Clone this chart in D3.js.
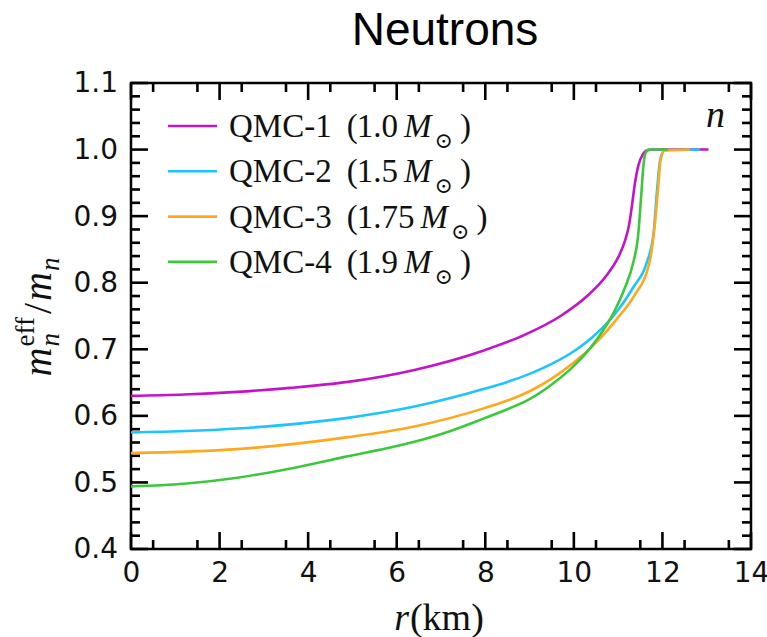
<!DOCTYPE html>
<html>
<head>
<meta charset="utf-8">
<script src="https://cdn.jsdelivr.net/npm/d3@7"></script>
<style>
  html, body { margin: 0; padding: 0; background: #fff; }
  svg { display: block; }
</style>
</head>
<body>
<svg id="chart" width="767" height="637"></svg>
<script>
// ---------------- data ----------------
const seriesNames = ["QMC-1", "QMC-2", "QMC-3", "QMC-4"];
const seriesMasses = ["1.0", "1.5", "1.75", "1.9"];
const seriesColors = ["#c414c8", "#1ec4ff", "#ffa81e", "#3cc83c"];

const qmc1R = [0, 1.2, 2.4, 3.6, 4.9, 6.4, 8.0, 8.9, 9.7, 10.3, 10.75, 11.0, 11.15, 11.25, 11.32, 11.38, 11.46, 11.55, 11.66, 11.8, 13.04];
const qmc1V = [0.630, 0.632, 0.636, 0.642, 0.651, 0.669, 0.699, 0.722, 0.750, 0.780, 0.812, 0.838, 0.862, 0.888, 0.920, 0.950, 0.977, 0.992, 0.999, 1.0, 1.0];

const qmc2R = [0, 2.4, 4.9, 6.4, 8.0, 8.5, 9.0, 9.5, 10.0, 10.5, 11.0, 11.35, 11.64, 11.8, 11.88, 11.95, 12.05, 12.85];
const qmc2V = [0.575, 0.581, 0.597, 0.614, 0.641, 0.651, 0.663, 0.678, 0.697, 0.723, 0.759, 0.794, 0.829, 0.874, 0.940, 0.985, 0.999, 1.0];

const qmc3R = [0, 2.4, 4.9, 6.4, 8.0, 8.5, 9.0, 9.5, 10.0, 10.5, 11.0, 11.35, 11.72, 11.83, 11.9, 11.96, 12.06, 12.62];
const qmc3V = [0.544, 0.550, 0.568, 0.584, 0.612, 0.623, 0.637, 0.656, 0.680, 0.710, 0.748, 0.779, 0.834, 0.889, 0.940, 0.985, 0.999, 1.0];

const qmc4R = [0, 1.2, 2.4, 3.6, 4.8, 6.4, 7.2, 8.0, 8.5, 9.0, 9.5, 10.0, 10.5, 10.9, 11.15, 11.34, 11.45, 11.52, 11.57, 11.62, 11.7, 12.13];
const qmc4V = [0.494, 0.498, 0.507, 0.521, 0.538, 0.561, 0.577, 0.597, 0.610, 0.625, 0.647, 0.675, 0.713, 0.755, 0.792, 0.830, 0.870, 0.930, 0.975, 0.995, 1.0, 1.0];

const xMajorTicks = [0, 2, 4, 6, 8, 10, 12, 14];
const yMajorTicks = [0.4, 0.5, 0.6, 0.7, 0.8, 0.9, 1.0, 1.1];
const yTickLabels = ["0.4", "0.5", "0.6", "0.7", "0.8", "0.9", "1.0", "1.1"];

// ---------------- layout ----------------
const svg = d3.select("#chart");
const L = 131, R = 751, T = 83, B = 549;
const x = d3.scaleLinear().domain([0, 14]).range([L, R]);
const y = d3.scaleLinear().domain([0.4, 1.1]).range([B, T]);

const xMinor = [];
for (let k = 1; k < 28; k += 2) xMinor.push(k * 0.5);
const yMinor = [];
for (let k = 20; k <= 55; k++) { if (k % 5 !== 0) yMinor.push(k * 0.02); }

const tickFont = "'DejaVu Sans', sans-serif";
const serif = "'Liberation Serif', 'DejaVu Serif', serif";
const majorLen = 17, minorLen = 9;

// frame
svg.append("path")
  .attr("d", `M${L},${T}H${R}V${B}H${L}Z`)
  .style("fill", "none").style("stroke", "#000").style("stroke-width", "2.5px");

// tick labels through d3 axes
function styleLabels(g) {
  g.select(".domain").remove();
  g.selectAll(".tick line").remove();
  g.selectAll(".tick text").attr("fill", "#111").style("font-family", tickFont).style("font-size", "28px");
}
svg.append("g").attr("transform", `translate(0,${B})`)
  .call(d3.axisBottom(x).tickValues(xMajorTicks).tickSize(0).tickPadding(13).tickFormat(d3.format("d")))
  .call(styleLabels);
svg.append("g").attr("transform", `translate(${L},0)`)
  .call(d3.axisLeft(y).tickValues(yMajorTicks).tickSize(0).tickPadding(13).tickFormat((d, i) => yTickLabels[i]))
  .call(styleLabels);

// ---------------- tick marks (inward, all four sides) ----------------
function tickLine(x1, y1, x2, y2) {
  svg.append("line").attr("x1", x1).attr("y1", y1).attr("x2", x2).attr("y2", y2)
    .style("stroke", "#000").style("stroke-width", "2.6px");
}
xMajorTicks.forEach(v => { tickLine(x(v), B, x(v), B - majorLen); tickLine(x(v), T, x(v), T + majorLen); });
xMinor.forEach(v => { tickLine(x(v), B, x(v), B - minorLen); tickLine(x(v), T, x(v), T + minorLen); });
yMajorTicks.forEach(v => { tickLine(L, y(v), L + majorLen, y(v)); tickLine(R, y(v), R - majorLen, y(v)); });
yMinor.forEach(v => { tickLine(L, y(v), L + minorLen, y(v)); tickLine(R, y(v), R - minorLen, y(v)); });

// ---------------- lines ----------------
const seriesR = [qmc1R, qmc2R, qmc3R, qmc4R];
const seriesV = [qmc1V, qmc2V, qmc3V, qmc4V];
const line = d3.line().x(d => x(d[0])).y(d => y(d[1])).curve(d3.curveMonotoneX);
seriesR.forEach((rs, i) => {
  const pts = rs.map((r, j) => [r, seriesV[i][j]]);
  svg.append("path").datum(pts).attr("d", line)
    .style("fill", "none").style("stroke", seriesColors[i]).style("stroke-width", "2.6px")
    .style("stroke-linejoin", "round");
});

// ---------------- rich text helper ----------------
function rich(parent, x0, y0, pieces, family) {
  const g = parent.append("g");
  let cx = x0, prevX = x0;
  pieces.forEach(p => {
    const px = p.stack ? prevX : cx;
    const t = g.append("text").attr("x", px).attr("y", y0 + (p.dy || 0))
      .style("font-family", p.family || family).style("font-size", p.size + "px")
      .style("font-style", p.it ? "italic" : "normal").attr("fill", "#111").text(p.t);
    const w = t.node().getComputedTextLength();
    if (p.stack) { cx = Math.max(cx, px + w); }
    else { prevX = px; cx = px + w; }
    cx += (p.gap || 0);
  });
  return g;
}

// ---------------- legend ----------------
const legX0 = 168, legX1 = 217, legTextX = 229, legY0 = 126, legDY = 45.3;
seriesNames.forEach((name, i) => {
  const yy = legY0 + i * legDY;
  svg.append("line").attr("x1", legX0).attr("x2", legX1).attr("y1", yy).attr("y2", yy)
    .style("stroke", seriesColors[i]).style("stroke-width", "2.6px");
  rich(svg, legTextX, yy + 11, [
    { t: name, size: 33, gap: 15 },
    { t: "(", size: 33, gap: -1 },
    { t: seriesMasses[i], size: 33, gap: 6 },
    { t: "M", it: true, size: 33, gap: 3 },
    { t: "\u2299", size: 22, dy: 11, gap: 7, family: "'DejaVu Serif', serif" },
    { t: ")", size: 33 }
  ], serif);
});

// top-right "n"
svg.append("text").attr("x", 706).attr("y", 127).style("font-family", serif)
  .style("font-size", "38px").style("font-style", "italic").attr("fill", "#111").text("n");

// title
svg.append("text").attr("x", 445).attr("y", 45).attr("text-anchor", "middle")
  .style("font-family", "'Liberation Sans', Arial, sans-serif").style("font-size", "46px")
  .attr("fill", "#000").text("Neutrons");

// x label
const xl = rich(svg, 0, 630, [
  { t: "r", it: true, size: 38, gap: 1 },
  { t: "(km)", size: 38 }
], serif);
{
  const bb = xl.node().getBBox();
  xl.attr("transform", `translate(${439 - (bb.x + bb.width / 2)},0)`);
}

// y label
const yl = rich(svg, 0, 0, [
  { t: "m", it: true, size: 40, gap: 1 },
  { t: "eff", size: 27, dy: -17 },
  { t: "n", it: true, size: 27, dy: 8, stack: true, gap: 3 },
  { t: "/", size: 40, gap: 2 },
  { t: "m", it: true, size: 40, gap: 1 },
  { t: "n", it: true, size: 27, dy: 8 }
], serif);
{
  const bb = yl.node().getBBox();
  const cy = 317;
  yl.attr("transform", `translate(51,${cy + bb.width / 2 + bb.x}) rotate(-90)`);
}
</script>
</body>
</html>
